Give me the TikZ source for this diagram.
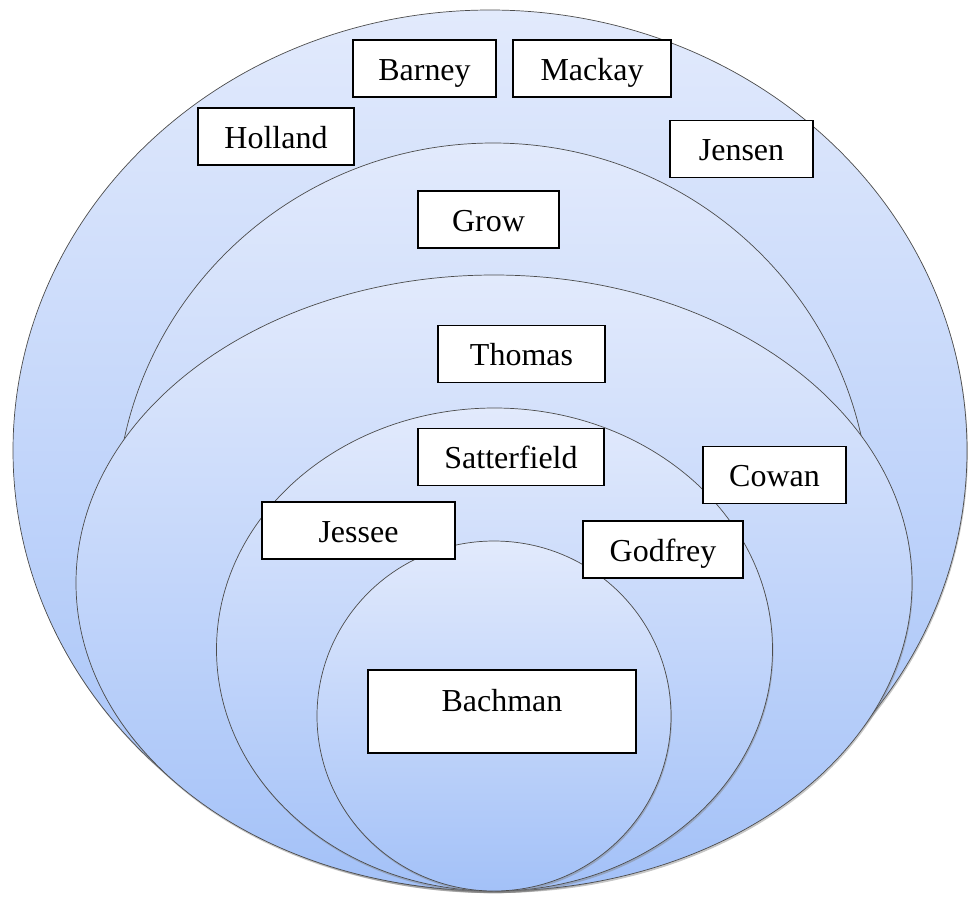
\documentclass[tikz,border=0pt]{standalone}
\usepackage{fontspec}
\setmainfont{Liberation Serif}
\usetikzlibrary{shadows}
\definecolor{topblue}{RGB}{226,234,252}
\definecolor{botblue}{RGB}{163,193,248}
\tikzset{
	layer/.style={draw=black!70, line width=0.4pt, top color=topblue, bottom color=botblue,
		drop shadow={shadow xshift=0.5pt, shadow yshift=-1.2pt, opacity=0.45}},
	namebox/.style={draw=black, line width=0.8pt, fill=white, inner sep=0pt,
		text height=0.8cm, text depth=0.34cm, font=\fontsize{18.2}{20}\selectfont}
}

\begin{document}
\begin{tikzpicture}[x=0.02cm, y=-0.02cm]
			%%%%% START %%%%%
			\def\u{0.02cm}
			\useasboundingbox (0,0) rectangle (968,897);
			
			% nested layers, all touching at the bottom
			\draw[layer] (490,450.5) ellipse ({477*\u} and {440.5*\u});
			\draw[layer] (493,517) ellipse ({377*\u} and {374*\u});
			\draw[layer] (494,583) ellipse ({418*\u} and {308*\u});
			\draw[layer] (494.5,649.5) ellipse ({278*\u} and {241.5*\u});
			\draw[layer] (494,716) ellipse ({177*\u} and {175*\u});
			
			% names
			\node[namebox, minimum width=2.86cm] (barney) at (424.5,68.5) {Barney};
			\node[namebox, minimum width=3.16cm] (mackay) at (592,68.5) {Mackay};
			\node[namebox, minimum width=3.12cm] (holland) at (276,136.5) {Holland};
			\node[namebox, minimum width=2.86cm] (jensen) at (741.5,149) {Jensen};
			\node[namebox, minimum width=2.82cm] (grow) at (488.5,219.5) {Grow};
			\node[namebox, minimum width=3.34cm] (thomas) at (521.5,354) {Thomas};
			\node[namebox, minimum width=3.72cm] (satterfield) at (511,457) {Satterfield};
			\node[namebox, minimum width=2.86cm] (cowan) at (774.5,475) {Cowan};
			\node[namebox, minimum width=3.86cm] (jessee) at (358.5,530.5) {Jessee};
			\node[namebox, minimum width=3.2cm] (godfrey) at (663,549.5) {Godfrey};
			\node[namebox, minimum width=5.36cm, text height=0.82cm, text depth=0.84cm] (bachman) at (502,711.5) {Bachman};
			%%%%% END %%%%%
\end{tikzpicture}
\end{document}
